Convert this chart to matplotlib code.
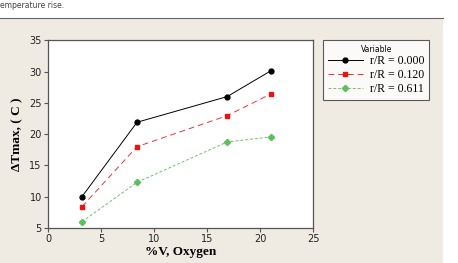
import matplotlib.pyplot as plt
from matplotlib.patches import Rectangle
from matplotlib.lines import Line2D

oxygen = [3.2, 8.4, 16.9, 21.0]
r000 = [10.0, 21.9, 26.0, 30.1]
r120 = [8.4, 18.0, 22.95, 26.4]
r611 = [6.0, 12.3, 18.75, 19.55]
labels = ['r/R = 0.000', 'r/R = 0.120', 'r/R = 0.611']

fig = plt.figure(figsize=(4.58, 2.63), dpi=100)
fig.patch.set_facecolor('white')

# beige panel behind the chart
fig.patches.append(Rectangle((0, 0), 443 / 458, 1 - 18 / 263, transform=fig.transFigure,
                             facecolor='#efebe3', edgecolor='none', zorder=-5))
fig.lines.append(Line2D([0, 443 / 458], [1 - 18 / 263] * 2, transform=fig.transFigure,
                        color='#666666', lw=0.8, zorder=-4))
fig.text(0.0, 0.997, 'emperature rise.', fontsize=5.5, va='top', ha='left', color='#444444')

ax = fig.add_axes([48 / 458, 1 - 228 / 263, 265 / 458, 187.7 / 263])
ax.set_facecolor('white')

ax.plot(oxygen, r000, color='black', ls='-', lw=0.7, marker='o', ms=3.5, label=labels[0])
ax.plot(oxygen, r120, color='#e8343a', ls=(0, (6, 4)), lw=0.7, marker='s', ms=3.5,
        mfc='#ee1111', mec='#ee1111', label=labels[1])
ax.plot(oxygen, r611, color='#70c070', ls=(0, (3, 2)), lw=0.7, marker='D', ms=3.2,
        mfc='#5cc05c', mec='#5cc05c', label=labels[2])

ax.set_xlim(0, 25)
ax.set_ylim(5, 35)
ax.set_xticks([0, 5, 10, 15, 20, 25])
ax.set_yticks([5, 10, 15, 20, 25, 30, 35])
ax.tick_params(labelsize=7, length=3, width=0.8, color='#555555', labelcolor='#222222', pad=1.5)
for s in ax.spines.values():
    s.set_color('#555555')
    s.set_linewidth(0.9)

ax.set_xlabel('%V, Oxygen', family='Liberation Serif', fontweight='bold', fontsize=9.5, labelpad=1)
ax.set_ylabel('ΔTmax, ( C )', family='Liberation Serif', fontweight='bold', fontsize=9.5, labelpad=4)

leg = fig.legend(loc='upper left', bbox_to_anchor=(323 / 458, 1 - 40 / 263), title='Variable',
                 prop={'family': 'Liberation Serif', 'size': 8.5}, title_fontsize=5.5,
                 frameon=True, fancybox=False, edgecolor='#333333', borderpad=0.4,
                 handlelength=3.0, labelspacing=0.15, handletextpad=0.6, borderaxespad=0)
leg.get_frame().set_linewidth(0.8)

plt.savefig('out.png', dpi=100)
